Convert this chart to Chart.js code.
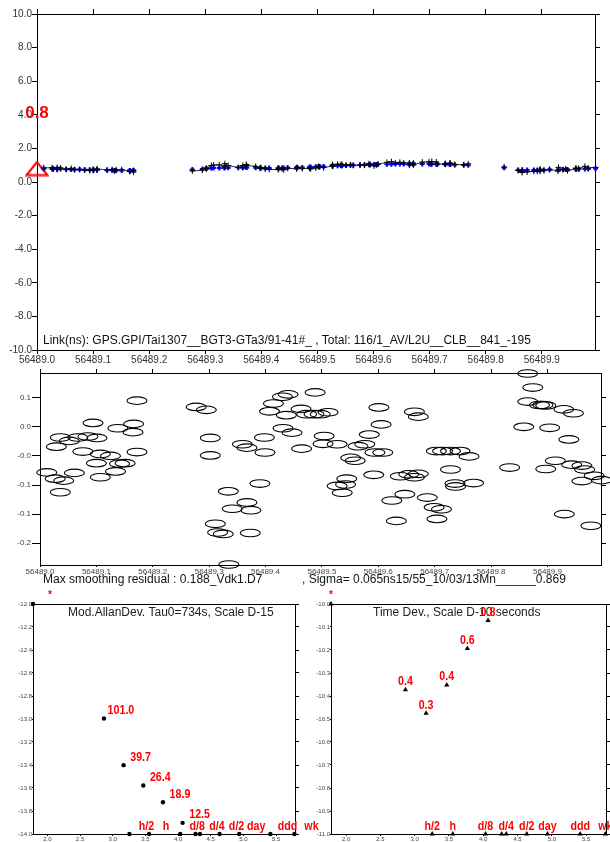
<!DOCTYPE html>
<html>
<head>
<meta charset="utf-8">
<script src="https://cdn.jsdelivr.net/npm/chart.js@4.4.0/dist/chart.umd.min.js"></script>
<style>
  body { margin: 0; background: #fff; width: 610px; height: 842px; position: relative; overflow: hidden; }
  canvas { position: absolute; }
</style>
</head>
<body>
<canvas id="linkChart" width="610" height="368" style="left:0;top:0"></canvas>
<canvas id="residChart" width="610" height="232" style="left:0;top:360px"></canvas>
<canvas id="adevChart" width="330" height="257" style="left:0;top:585px"></canvas>
<canvas id="tdevChart" width="310" height="257" style="left:300px;top:585px"></canvas>
<script>
// ---- data ----
const MJD0 = 56489;
// fraction of day for each epoch
const dayFrac = [
  0.012, 0.027, 0.029, 0.036, 0.036, 0.042, 0.052, 0.061, 0.067, 0.076,
  0.085, 0.094, 0.100, 0.101, 0.107, 0.107, 0.125, 0.134, 0.138, 0.141,
  0.151, 0.165, 0.166, 0.172, 0.172,
  0.277, 0.295, 0.302, 0.302, 0.311, 0.315, 0.325, 0.334, 0.335, 0.341,
  0.359, 0.367, 0.367, 0.373, 0.374, 0.390, 0.398, 0.399, 0.407, 0.414,
  0.430, 0.431, 0.437, 0.440, 0.447, 0.463, 0.464, 0.473, 0.486, 0.488,
  0.497, 0.502, 0.504, 0.511, 0.527, 0.527, 0.536, 0.542, 0.544, 0.551,
  0.559, 0.564, 0.576, 0.584, 0.592, 0.594, 0.601, 0.605, 0.608, 0.624,
  0.632, 0.639, 0.647, 0.654, 0.664, 0.664, 0.671, 0.671, 0.687, 0.699,
  0.703, 0.704, 0.712, 0.714, 0.728, 0.728, 0.736, 0.737, 0.745, 0.761,
  0.769,
  0.833,
  0.858, 0.865, 0.865, 0.874, 0.886, 0.892, 0.897, 0.897, 0.904, 0.914,
  0.929, 0.930, 0.938, 0.943, 0.946, 0.961, 0.961, 0.966, 0.977, 0.983,
  0.996
];
// smoothing residual (ns)
const residual = [
  -0.054, -0.067, -0.001, 0.018, -0.095, -0.071, 0.011, -0.055, 0.018, -0.011,
  0.020, 0.048, -0.035, 0.017, -0.016, -0.064, -0.020, -0.052, 0.037, -0.036,
  -0.035, 0.029, 0.046, -0.012, 0.094,
  0.081, 0.075, 0.017, -0.019, -0.160, -0.178, -0.181, -0.093, -0.244, -0.129,
  0.004, -0.116, -0.003, -0.179, -0.132, -0.077, 0.018, -0.013, 0.072, 0.088,
  0.102, 0.037, 0.064, 0.107, 0.028, 0.077, -0.005, 0.066, 0.066, 0.111,
  0.066, 0.005, 0.021, 0.070, 0.004, -0.082, -0.096, -0.079, -0.067, -0.024,
  -0.030, 0.000, 0.004, 0.024, -0.059, -0.013, 0.080, 0.045, -0.013, -0.112,
  -0.154, -0.062, -0.099, -0.058, -0.064, 0.071, -0.057, 0.061, -0.106, -0.126,
  -0.010, -0.150, -0.130, -0.010, -0.010, -0.048, -0.077, -0.083, -0.010, -0.021,
  -0.076,
  -0.044,
  0.040, 0.150, 0.092, 0.121, 0.085, 0.085, 0.084, -0.047, 0.038, -0.030,
  0.076, -0.140, 0.014, -0.038, 0.068, -0.040, -0.072, -0.048, -0.164, -0.061,
  -0.070
];
// smoothed link (ns)
const smoothNs = [
  0.79, 0.78, 0.78, 0.77, 0.77, 0.77, 0.76, 0.75, 0.75, 0.74,
  0.73, 0.73, 0.72, 0.72, 0.72, 0.72, 0.70, 0.70, 0.69, 0.69,
  0.69, 0.68, 0.68, 0.68, 0.68,
  0.74, 0.78, 0.80, 0.80, 0.82, 0.83, 0.84, 0.85, 0.85, 0.85,
  0.86, 0.86, 0.86, 0.86, 0.86, 0.85, 0.84, 0.84, 0.84, 0.84,
  0.84, 0.84, 0.84, 0.84, 0.85, 0.86, 0.86, 0.87, 0.89, 0.89,
  0.91, 0.92, 0.92, 0.93, 0.95, 0.95, 0.96, 0.97, 0.97, 0.98,
  0.99, 0.99, 1.01, 1.02, 1.03, 1.03, 1.04, 1.04, 1.05, 1.06,
  1.06, 1.07, 1.07, 1.07, 1.07, 1.07, 1.07, 1.07, 1.07, 1.07,
  1.07, 1.07, 1.06, 1.06, 1.05, 1.05, 1.04, 1.04, 1.03, 1.01,
  1.00,
  0.85,
  0.72, 0.72, 0.72, 0.72, 0.72, 0.72, 0.72, 0.72, 0.72, 0.73,
  0.73, 0.73, 0.74, 0.74, 0.74, 0.76, 0.76, 0.76, 0.77, 0.78,
  0.80
];
// raw link (ns)
const rawNs = [
  0.84, 0.85, 0.78, 0.75, 0.87, 0.84, 0.75, 0.81, 0.73, 0.75,
  0.71, 0.68, 0.76, 0.70, 0.74, 0.78, 0.72, 0.75, 0.65, 0.73,
  0.73, 0.65, 0.63, 0.69, 0.59,
  0.66, 0.71, 0.78, 0.82, 0.98, 1.01, 1.02, 0.94, 1.09, 0.98,
  0.86, 0.98, 0.86, 1.04, 0.99, 0.93, 0.82, 0.85, 0.77, 0.75,
  0.74, 0.80, 0.78, 0.73, 0.82, 0.78, 0.87, 0.80, 0.82, 0.78,
  0.84, 0.92, 0.90, 0.86, 0.95, 1.03, 1.06, 1.05, 1.04, 1.00,
  1.02, 0.99, 1.01, 1.00, 1.09, 1.04, 0.96, 1.00, 1.06, 1.17,
  1.21, 1.13, 1.17, 1.13, 1.13, 1.00, 1.13, 1.01, 1.18, 1.20,
  1.08, 1.22, 1.19, 1.07, 1.06, 1.10, 1.12, 1.12, 1.04, 1.03,
  1.08,
  0.89,
  0.68, 0.57, 0.63, 0.60, 0.64, 0.64, 0.64, 0.77, 0.68, 0.76,
  0.65, 0.87, 0.73, 0.78, 0.67, 0.80, 0.83, 0.81, 0.93, 0.84,
  0.87
];
const startValue = 0.8;
const mjdTicks = [56489.0, 56489.1, 56489.2, 56489.3, 56489.4, 56489.5, 56489.6, 56489.7, 56489.8, 56489.9];
const linkTicks = [10, 8, 6, 4, 2, 0, -2, -4, -6, -8, -10];
const residTicks = [0.1, 0.04, -0.02, -0.08, -0.14, -0.2];

// stability, tau = 734 s * 2^n
const tauSec = [734, 1468, 2936, 5872, 11744];
const modAdev = [101.0, 39.7, 26.4, 18.9, 12.5];   // 1e-15
const timeDev = [0.424, 0.335, 0.445, 0.64, 0.847]; // 1e-10 s
const markTau = [1800, 3600, 10800, 18500, 21600, 43200, 86400, 259200, 604800];
const markNames = ['h/2', 'h', 'd/8', '', 'd/4', 'd/2', 'day', 'ddd', 'wk'];
const logTauTicks = [2.0, 2.5, 3.0, 3.5, 4.0, 4.5, 5.0, 5.5];
const adevTicks = [-12.0, -12.2, -12.4, -12.6, -12.8, -13.0, -13.2, -13.4, -13.6, -13.8, -14.0];
const tdevTicks = [-10.0, -10.1, -10.2, -10.3, -10.4, -10.5, -10.6, -10.7, -10.8, -10.9, -11.0];
const logTauRange = [1.78, 5.79];
const adevRange = [-14, -12];
const tdevRange = [-11, -10];

// ---- setup ----
Chart.defaults.font.family = '"Liberation Sans", Arial, Helvetica, sans-serif';
Chart.defaults.animation = false;
Chart.defaults.events = [];
Chart.defaults.plugins.legend.display = false;
Chart.defaults.plugins.tooltip.enabled = false;

const RED = '#ff0000';
const redFont = 'bold 13px "Liberation Sans", Arial, sans-serif';

// text next to each point of a dataset (ds.texts / textFont / textDx / textDy / textScaleX)
// and open ellipses for datasets that set ds.ellipse
const pointText = {
  id: 'pointText',
  afterDatasetsDraw(chart) {
    const ctx = chart.ctx;
    chart.data.datasets.forEach((ds, i) => {
      const meta = chart.getDatasetMeta(i);
      if (ds.ellipse) {
        ctx.save();
        ctx.strokeStyle = '#000';
        ctx.lineWidth = 1.1;
        meta.data.forEach(el => {
          ctx.beginPath();
          ctx.ellipse(el.x, el.y, ds.ellipse[0], ds.ellipse[1], 0, 0, Math.PI * 2);
          ctx.stroke();
        });
        ctx.restore();
      }
      if (!ds.texts) return;
      const sx = ds.textScaleX || 1;
      ctx.save();
      ctx.font = ds.textFont;
      ctx.fillStyle = ds.textColor || RED;
      ctx.textAlign = 'center';
      ctx.textBaseline = 'middle';
      meta.data.forEach((el, j) => {
        if (!ds.texts[j]) return;
        ctx.save();
        ctx.translate(el.x + ds.textDx, el.y + ds.textDy);
        ctx.scale(sx, 1);
        ctx.fillText(ds.texts[j], 0, 0);
        ctx.restore();
      });
      ctx.restore();
    });
  }
};
Chart.register(pointText);

// fixed captions placed relative to the plot area
function captions(items) {
  return {
    id: 'captions',
    beforeDatasetsDraw(chart) {
      const a = chart.chartArea, ctx = chart.ctx;
      ctx.save();
      ctx.textAlign = 'left';
      ctx.textBaseline = 'middle';
      items.forEach(it => {
        ctx.font = it.font;
        ctx.fillStyle = it.color || '#111';
        ctx.fillText(it.text, a.left + it.dx, a.top + it.dy);
      });
      ctx.restore();
    }
  };
}

function axis(pos, range, tickList, size, o) {
  return {
    type: 'linear',
    position: pos,
    min: range[0],
    max: range[1],
    afterBuildTicks: s => { s.ticks = tickList.map(v => ({ value: v })); },
    afterFit: s => { if (s.isHorizontal()) s.height = size; else s.width = size; },
    border: { display: true, color: o.borderColor || '#000', width: o.borderWidth || 1 },
    grid: { drawOnChartArea: false, drawTicks: o.tickLength > 0, tickLength: o.tickLength, color: '#000', lineWidth: 1 },
    ticks: {
      display: !!o.font,
      font: o.font,
      color: o.color || '#333',
      padding: o.padding || 0,
      autoSkip: false,
      maxRotation: 0,
      callback: v => v.toFixed(1)
    }
  };
}

function openTriangle() {
  const c = document.createElement('canvas');
  c.width = 24; c.height = 16;
  const g = c.getContext('2d');
  g.strokeStyle = RED;
  g.lineWidth = 2;
  g.beginPath();
  g.moveTo(12, 1.5); g.lineTo(1.5, 14.5); g.lineTo(22.5, 14.5); g.closePath();
  g.stroke();
  return c;
}

const epochs = dayFrac.map(f => MJD0 + f);
// break the line where the data stops
function linkPoints(vals) {
  const pts = [];
  epochs.forEach((x, i) => {
    if (i > 0 && x - epochs[i - 1] > 0.02) pts.push({ x: (x + epochs[i - 1]) / 2, y: null });
    pts.push({ x: x, y: vals[i] });
  });
  return pts;
}
const mjdRange = [MJD0, MJD0 + 0.995];

// ---- link (ns) ----
new Chart(document.getElementById('linkChart'), {
  type: 'scatter',
  data: {
    datasets: [{
      data: linkPoints(rawNs),
      showLine: true,
      spanGaps: false,
      borderColor: '#333',
      borderWidth: 1,
      pointStyle: 'cross',
      pointRadius: 3,
      pointBorderColor: '#000',
      pointBorderWidth: 1,
      clip: false
    }, {
      data: linkPoints(smoothNs),
      showLine: false,
      pointStyle: 'cross',
      pointRadius: 2.5,
      pointBorderColor: '#0000ff',
      pointBorderWidth: 2,
      clip: false
    }, {
      data: [{ x: MJD0, y: startValue }],
      pointStyle: openTriangle(),
      clip: false,
      texts: [startValue.toFixed(1)],
      textFont: 'bold 17px "Liberation Sans", Arial, sans-serif',
      textDx: 0,
      textDy: -55
    }]
  },
  options: {
    responsive: false,
    layout: { padding: 0 },
    scales: {
      x: axis('bottom', mjdRange, mjdTicks, 18, { tickLength: 4, font: { size: 10 } }),
      x2: axis('top', mjdRange, mjdTicks, 14, { tickLength: 5 }),
      y: axis('left', [-10, 10], linkTicks, 37, { tickLength: 5, font: { size: 10 } }),
      y2: axis('right', [-10, 10], linkTicks, 15, { tickLength: 5 })
    }
  },
  plugins: [captions([
    { text: 'Link(ns): GPS.GPI/Tai1307__BGT3-GTa3/91-41#_ , Total: 116/1_AV/L2U__CLB__841_-195', dx: 6, dy: 327, font: '12px "Liberation Sans", Arial, sans-serif' }
  ])]
});

// ---- smoothing residual ----
new Chart(document.getElementById('residChart'), {
  type: 'scatter',
  data: {
    datasets: [{
      data: epochs.map((x, i) => ({ x: x, y: residual[i] })),
      pointRadius: 0,
      ellipse: [10, 3.8],
      clip: false
    }]
  },
  options: {
    responsive: false,
    layout: { padding: 0 },
    scales: {
      x: axis('bottom', mjdRange, mjdTicks, 27, { tickLength: 2, font: { size: 8 }, color: '#444' }),
      x2: axis('top', mjdRange, mjdTicks, 13, { tickLength: 4 }),
      y: axis('left', [-0.245, 0.151], residTicks, 40, { tickLength: 8, padding: 1, font: { size: 8 }, color: '#444' }),
      y2: axis('right', [-0.245, 0.151], residTicks, 9, { tickLength: 5 })
    }
  },
  plugins: [captions([
    { text: 'Max smoothing residual : 0.188_Vdk1.D7', dx: 3, dy: 207, font: '12px "Liberation Sans", Arial, sans-serif' },
    { text: ', Sigma= 0.065ns15/55_10/03/13Mn______0.869', dx: 262, dy: 207, font: '12px "Liberation Sans", Arial, sans-serif' }
  ])]
});

// ---- stability plots ----
function stabilityChart(id, vals, scaleExp, yRange, yTicks, style, leftW, rightW, labelDx, title, titleDx) {
  const logTau = tauSec.map(t => Math.log10(t));
  const radius = style === 'triangle' ? 3 : 2.2;
  const marks = {
    pointStyle: style,
    pointRadius: radius,
    backgroundColor: '#000',
    borderColor: '#000',
    borderWidth: 0,
    clip: false,
    textFont: redFont,
    textScaleX: 0.82,
    textDx: labelDx,
    textDy: -8
  };
  return new Chart(document.getElementById(id), {
    type: 'scatter',
    data: {
      datasets: [Object.assign({}, marks, {
        data: vals.map((v, i) => ({ x: logTau[i], y: Math.log10(v * scaleExp) })),
        texts: vals.map(v => v.toFixed(1))
      }), Object.assign({}, marks, {
        data: markTau.map(t => ({ x: Math.log10(t), y: yRange[0] })),
        texts: markNames
      }), Object.assign({}, marks, {
        data: [{ x: logTauRange[0], y: yRange[1] }],
        texts: ['*'],
        textFont: 'bold 10px "Liberation Sans", Arial, sans-serif',
        textScaleX: 1,
        textDy: -9
      })]
    },
    options: {
      responsive: false,
      layout: { padding: { top: 19 } },
      scales: {
        x: axis('bottom', logTauRange, logTauTicks, 8, { tickLength: 2, font: { size: 6 }, color: '#444' }),
        x2: axis('top', logTauRange, logTauTicks, 0, { tickLength: 0 }),
        y: axis('left', yRange, yTicks, leftW, { tickLength: 1, padding: 0, font: { size: 6 }, color: '#444' }),
        y2: axis('right', yRange, yTicks, rightW, { tickLength: 4 })
      }
    },
    plugins: [captions([
      { text: title, dx: titleDx, dy: 9, font: '12px "Liberation Sans", Arial, sans-serif', color: '#222' }
    ])]
  });
}

stabilityChart('adevChart', modAdev, 1e-15, adevRange, adevTicks, 'circle', 33, 35, 17,
  'Mod.AllanDev. Tau0=734s, Scale D-15', 35);
stabilityChart('tdevChart', timeDev, 1e-10, tdevRange, tdevTicks, 'triangle', 31, 4, 0,
  'Time Dev., Scale D-10 seconds', 42);
</script>
</body>
</html>
